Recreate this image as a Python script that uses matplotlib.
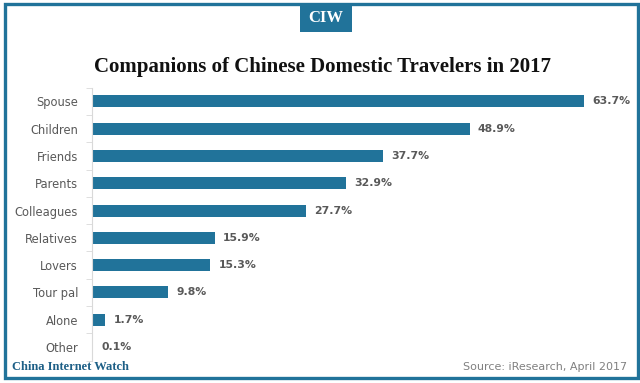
import matplotlib.pyplot as plt
from matplotlib.patches import Rectangle
import numpy as np

companions = ["Spouse", "Children", "Friends", "Parents", "Colleagues",
              "Relatives", "Lovers", "Tour pal", "Alone", "Other"]
shares = [63.7, 48.9, 37.7, 32.9, 27.7, 15.9, 15.3, 9.8, 1.7, 0.1]

BLUE = "#21739a"
GREY = "#595959"

fig = plt.figure(figsize=(6.4, 3.83), dpi=100)

# frame around the whole picture
fig.patches.append(Rectangle((4.5 / 640, 1 - 377.5 / 383), 633 / 640, 374 / 383,
                             transform=fig.transFigure, fill=False,
                             edgecolor=BLUE, linewidth=2.4))
# CIW badge
fig.patches.append(Rectangle((300 / 640, 1 - 32 / 383), 52 / 640, 29 / 383,
                             transform=fig.transFigure, facecolor=BLUE,
                             edgecolor="none"))
fig.text(326 / 640, 1 - 18 / 383, "CIW", color="white", ha="center", va="center",
         fontsize=12, fontweight="bold", family="Liberation Serif")

fig.text(322 / 640, 1 - 67 / 383, "Companions of Chinese Domestic Travelers in 2017",
         ha="center", va="center", fontsize=15, fontweight="bold",
         family="Liberation Serif", color="#111111")

ax = fig.add_axes([92 / 640, 1 - 360.7 / 383, 540 / 640, 273 / 383])
y = np.arange(len(companions))
ax.barh(y, shares, height=0.44, color=BLUE)
ax.set_xlim(0, 540 / 7.72)
ax.set_ylim(len(companions) - 0.5, -0.5)

for yi, v in zip(y, shares):
    ax.text(v + 1.1, yi, f"{v}%", va="center", ha="left", fontsize=7.8,
            fontweight="bold", color=GREY)

ax.set_yticks(y)
ax.set_yticklabels(companions, fontsize=8.3, color=GREY)
ax.set_yticks(np.arange(-0.5, len(companions)), minor=True)
ax.tick_params(axis="y", which="major", length=0, pad=10)
ax.tick_params(axis="y", which="minor", length=4, color="#d9d9d9")
ax.set_xticks([])
for side in ["top", "right", "bottom"]:
    ax.spines[side].set_visible(False)
ax.spines["left"].set_color("#d9d9d9")

fig.text(12 / 640, 1 - 367 / 383, "China Internet Watch", ha="left", va="center",
         fontsize=9, fontweight="bold", family="Liberation Serif", color="#1d5f86")
fig.text(627 / 640, 1 - 367 / 383, "Source: iResearch, April 2017", ha="right",
         va="center", fontsize=8, color="#808080")

fig.savefig("out.png", dpi=100)
